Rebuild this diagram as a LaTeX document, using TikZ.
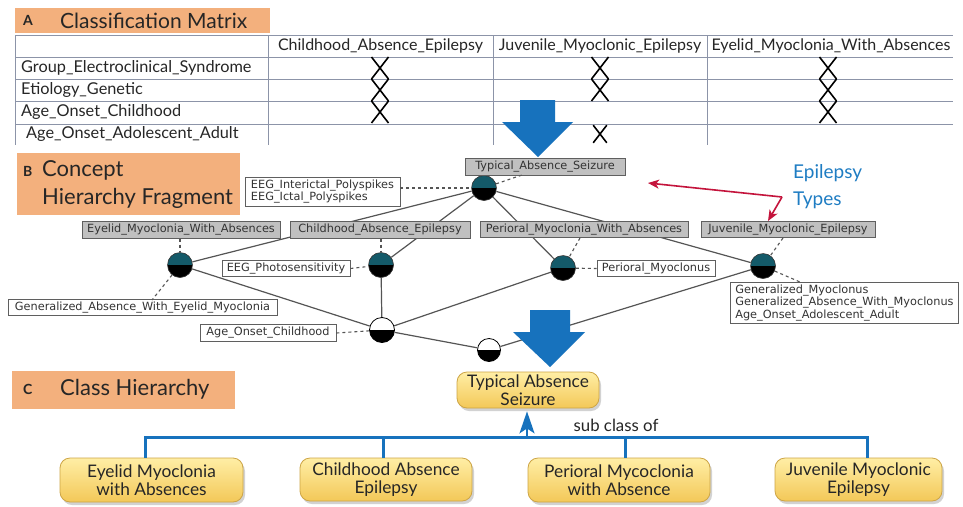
\documentclass[tikz,border=0pt]{standalone}
\usepackage{fontspec}
\setmainfont{Lato}
\newfontfamily\lblfont{DejaVu Sans}
\usetikzlibrary{arrows.meta,shadows}
\definecolor{orng}{RGB}{243,176,125}
\definecolor{tblline}{RGB}{140,148,168}
\definecolor{bluearr}{RGB}{23,114,189}
\definecolor{teal2}{RGB}{20,90,105}
\definecolor{crim}{RGB}{196,20,60}
\definecolor{epiblue}{RGB}{31,125,195}
\definecolor{ylwtop}{RGB}{255,238,165}
\definecolor{ylwbot}{RGB}{243,200,88}
\definecolor{ylwdraw}{RGB}{205,165,70}
\definecolor{glab}{RGB}{192,192,192}
\definecolor{lbldraw}{RGB}{95,95,95}
\definecolor{edgec}{RGB}{85,85,85}
\tikzset{
 titlebox/.style={fill=orng, draw=none, anchor=north west, inner sep=0pt},
 ttl/.style={font=\fontsize{22}{24}\selectfont, anchor=west, inner sep=0pt, text=black!85},
 ttlletter/.style={font=\bfseries\fontsize{14}{16}\selectfont, anchor=west, inner sep=0pt, text=black!85},
 tbl/.style={draw=tblline, line width=0.9pt},
 hdr/.style={font=\fontsize{16}{18}\selectfont, inner sep=0pt, text=black!85},
 rowlab/.style={font=\fontsize{16.3}{18}\selectfont, anchor=west, inner sep=0pt, text=black!85},
 xmk/.pic={\draw[line width=1.6pt] (-8.5,-11) -- (8.5,11) (-8.5,11) -- (8.5,-11);},
 glabel/.style={draw=lbldraw, fill=glab, line width=0.8pt, font=\lblfont\fontsize{11.3}{13}\selectfont, inner xsep=3pt, inner ysep=1pt, minimum height=16.5pt, text=black!80},
 wlabel/.style={draw=lbldraw, fill=white, line width=0.8pt, font=\lblfont\fontsize{11.3}{12.5}\selectfont, inner xsep=4pt, inner ysep=1.5pt, minimum height=16.5pt, text=black!80, align=left},
 tealc/.style={circle, minimum size=25pt, inner sep=0pt, draw=black!80, line width=0.6pt,
   path picture={\fill[teal2] (path picture bounding box.north west) rectangle (path picture bounding box.east);
                 \fill[black] (path picture bounding box.west) rectangle (path picture bounding box.south east);}},
 whitec/.style={circle, minimum size=25pt, inner sep=0pt, draw=black, line width=0.8pt,
   path picture={\fill[white] (path picture bounding box.north west) rectangle (path picture bounding box.east);
                 \fill[black] (path picture bounding box.west) rectangle (path picture bounding box.south east);}},
 edge/.style={draw=edgec, line width=1.2pt},
 dashe/.style={draw=edgec, line width=1.1pt, dash pattern=on 3pt off 3pt},
 ybox/.style={rounded corners=10pt, top color=ylwtop, bottom color=ylwbot, draw=ylwdraw, line width=0.8pt,
   drop shadow={shadow xshift=2pt, shadow yshift=-3pt, opacity=0.35}, align=center,
   font=\fontsize{17.3}{18.5}\selectfont, inner sep=2pt, text=black!85},
 conn/.style={draw=bluearr, line width=3pt},
 bigarrow/.style={fill=bluearr},
}
\begin{document}
\begin{tikzpicture}[x=1pt,y=-1pt]
\useasboundingbox (0,0) rectangle (963,506);
\fill[white] (0,0) rectangle (963,506);

% ---------------- A ----------------
\node[titlebox, minimum width=255pt, minimum height=25pt] (tA) at (15,8) {};
\node[ttlletter] (tAl) at (23,20.5) {A};
\node[ttl, font=\fontsize{21}{23}\selectfont] (tAt) at (60,20.5) {Classification Matrix};

\foreach \yy in {35,57,79,101,124} \draw[tbl] (15,\yy) -- (953,\yy);
\foreach \xx in {15,268,493,707} \draw[tbl] (\xx,35) -- (\xx,145);

\node[hdr] (h1) at (380.5,46) {Childhood\_Absence\_Epilepsy};
\node[hdr] (h2) at (600,46) {Juvenile\_Myoclonic\_Epilepsy};
\node[hdr] (h3) at (831,46) {Eyelid\_Myoclonia\_With\_Absences};

\node[rowlab] (r1) at (21,68) {Group\_Electroclinical\_Syndrome};
\node[rowlab] (r2) at (21,90) {Etiology\_Genetic};
\node[rowlab] (r3) at (21,112) {Age\_Onset\_Childhood};
\node[rowlab] (r4) at (26,134) {Age\_Onset\_Adolescent\_Adult};

\foreach \yy in {68,90,112} {
  \pic at (380,\yy) {xmk};
  \pic at (828,\yy) {xmk};
}
\pic at (600,68) {xmk};
\pic at (600,90) {xmk};
\pic[scale=0.8] at (600,134) {xmk};

% big arrow 1
\fill[bigarrow] (520,100) -- (555,100) -- (555,122) -- (573,122) -- (538,157) -- (502,122) -- (520,122) -- cycle;

% ---------------- B ----------------
\node[titlebox, minimum width=223pt, minimum height=62pt] (tB) at (17,153) {};
\node[ttlletter] (tBl) at (23,171) {B};
\node[ttl] (tBt1) at (42,170) {Concept};
\node[ttl] (tBt2) at (42,198) {Hierarchy Fragment};

% concept circles
\node[tealc] (c0) at (484,188) {};
\node[tealc] (c1) at (180,265) {};
\node[tealc] (c2) at (381,265) {};
\node[tealc] (c3) at (563,268) {};
\node[tealc] (c4) at (763,266) {};
\node[whitec] (c5) at (382,330) {};
\node[whitec, minimum size=23pt] (c6) at (489,350) {};

% solid lattice edges
\draw[edge] (c0) -- (c1);
\draw[edge] (c0) -- (c2);
\draw[edge] (c0) -- (c3);
\draw[edge] (c0) -- (c4);
\draw[edge] (c1) -- (c5);
\draw[edge] (c2) -- (c5);
\draw[edge] (c3) -- (c5);
\draw[edge] (c5) -- (c6);
\draw[edge] (c6) -- (c4);

% labels
\node[glabel, minimum width=160pt] (lTAS) at (545,167) {Typical\_Absence\_Seizure};
\node[glabel, minimum width=198pt] (lEMA) at (181,230) {Eyelid\_Myoclonia\_With\_Absences};
\node[glabel, minimum width=180pt] (lCAE) at (380,230) {Childhood\_Absence\_Epilepsy};
\node[glabel, minimum width=208pt] (lPMA) at (584,229.5) {Perioral\_Myoclonia\_With\_Absences};
\node[glabel, minimum width=174pt] (lJME) at (788,229.5) {Juvenile\_Myoclonic\_Epilepsy};

\node[wlabel, minimum width=155pt, minimum height=29pt] (wEEG) at (322.5,191.5) {EEG\_Interictal\_Polyspikes\\EEG\_Ictal\_Polyspikes};
\node[wlabel, minimum width=128pt] (wPho) at (286,268.5) {EEG\_Photosensitivity};
\node[wlabel, minimum width=269pt] (wGAE) at (142.5,307.5) {Generalized\_Absence\_With\_Eyelid\_Myoclonia};
\node[wlabel, minimum width=136pt] (wAOC) at (268,333) {Age\_Onset\_Childhood};
\node[wlabel, minimum width=118pt] (wPM) at (656,268.5) {Perioral\_Myoclonus};
\node[wlabel, anchor=north west, minimum width=228pt, minimum height=41pt, inner ysep=1.5pt] (wGM) at (730,282) {Generalized\_Myoclonus\\Generalized\_Absence\_With\_Myoclonus\\Age\_Onset\_Adolescent\_Adult};

% dashed links
\coordinate (dTAS) at (522,175);
\coordinate (dPMA) at (580,238);
\coordinate (dJME) at (783,238);
\coordinate (dGAE) at (152,300);
\coordinate (dGM) at (800,282);
\draw[dashe] (wEEG.east |- c0) -- (c0);
\draw[dashe] (c0) -- (dTAS);
\draw[dashe] (lEMA.south -| c1) -- (c1);
\draw[dashe] (lCAE.south -| c2) -- (c2);
\draw[dashe] (dPMA) -- (c3);
\draw[dashe] (dJME) -- (c4);
\draw[dashe] (c1) -- (dGAE);
\draw[dashe] (wPho.east) -- (c2);
\draw[dashe] (wAOC.east) -- (c5);
\draw[dashe] (c3) -- (wPM.west);
\draw[dashe] (c4) -- (dGM);

% red arrows
\coordinate (rM) at (782,197);
\coordinate (rL) at (648,183);
\coordinate (rD) at (768,221);
\draw[crim, line width=1.6pt, -{Stealth[length=11pt,width=9pt,inset=3pt]}] (rM) -- (rL);
\draw[crim, line width=1.6pt, -{Stealth[length=11pt,width=9pt,inset=3pt]}] (rM) -- (rD);
\node[font=\fontsize{19}{21}\selectfont, text=epiblue, anchor=west, inner sep=0pt] (ep1) at (793,173) {Epilepsy};
\node[font=\fontsize{19}{21}\selectfont, text=epiblue, anchor=west, inner sep=0pt] (ep2) at (793,200) {Types};

% big arrow 2
\fill[bigarrow] (530,310) -- (570,310) -- (570,332) -- (585,332) -- (550,367) -- (513,332) -- (530,332) -- cycle;

% ---------------- C ----------------
\node[titlebox, minimum width=223pt, minimum height=38pt] (tC) at (12,371) {};
\node[ttlletter] (tCl) at (23,389) {C};
\node[ttl] (tCt) at (60,389) {Class Hierarchy};

\node[ybox, minimum width=142pt, minimum height=36pt] (yTAS) at (528,390) {Typical Absence\\Seizure};
\node[ybox, minimum width=183pt, minimum height=44pt] (yE) at (151.5,480) {Eyelid Myoclonia\\with Absences};
\node[ybox, minimum width=172pt, minimum height=43pt] (yC) at (386,479.5) {Childhood Absence\\Epilepsy};
\node[ybox, minimum width=182pt, minimum height=44pt] (yP) at (619,480) {Perioral Mycoclonia\\with Absence};
\node[ybox, minimum width=167pt, minimum height=43pt] (yJ) at (858.5,479.5) {Juvenile Myoclonic\\Epilepsy};

\coordinate (hub) at (527,437);
\draw[conn] ([xshift=-6pt]yE.north) |- (hub) -| ([xshift=9pt]yJ.north);
\draw[conn] ([xshift=-3pt]yC.north) -- ([xshift=-3pt]yC.north |- hub);
\draw[conn] ([xshift=6pt]yP.north) -- ([xshift=6pt]yP.north |- hub);
\draw[draw=bluearr, line width=2pt, -{Stealth[length=22pt,width=15pt,inset=5pt]}] (hub) -- ([yshift=-3pt]hub |- yTAS.south);
\node[font=\fontsize{16.8}{18}\selectfont, inner sep=0pt, text=black!85] (sub) at (616,425) {sub class of};
\end{tikzpicture}
\end{document}
